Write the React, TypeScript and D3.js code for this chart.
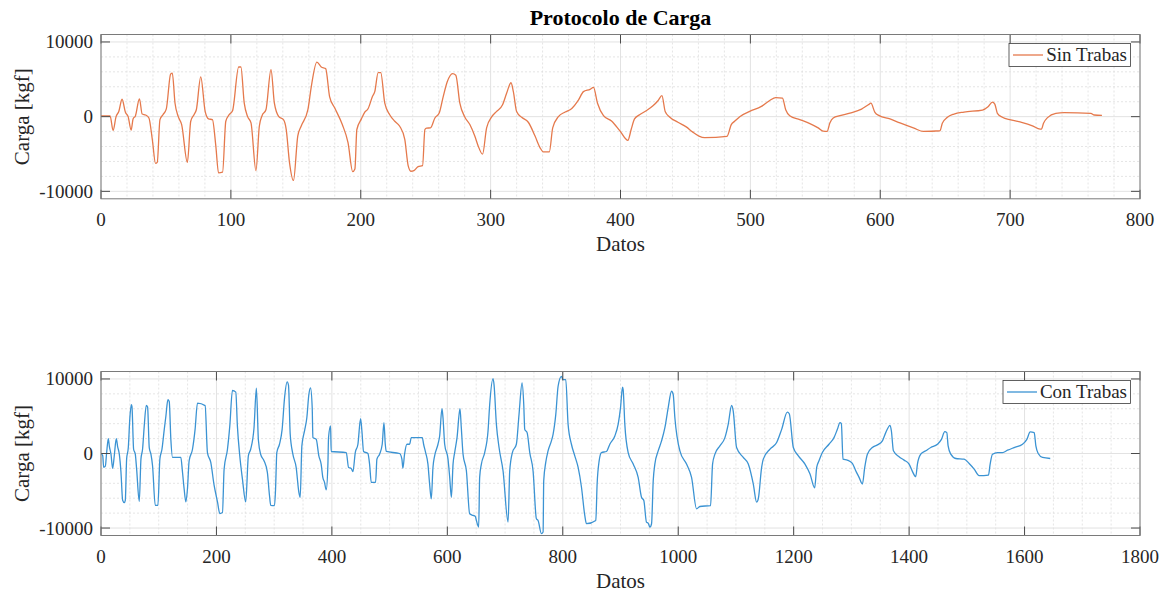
import React from "react";
import * as d3 from "d3";

// Load protocol records: [dato index, carga in kgf]
const sinTrabas: [number, number][] = [
  [0, 100], [7, 100], [9.3, -1850], [11.6, 0], [13.7, 700], [16.2, 2330], [18.8, 600], [20.9, 0],
  [23.2, -1800], [24.7, -300], [26.5, 100], [29.6, 2380], [31.7, 350], [34.3, 220], [36.9, -180],
  [39.5, -3040], [42, -6250], [43.3, -6120], [45.4, -400], [47.7, 260], [50.3, 1050], [53.6, 5700],
  [54.9, 5840], [57, 1800], [59.5, 0], [62.1, -1060], [66.5, -6120], [69.1, -620], [71.6, 260],
  [73.4, 920], [76.8, 5330], [80.2, 700], [82.8, -300], [85.8, -400], [88.4, -3920], [90.5, -7530],
  [93.6, -7440], [96.1, -620], [98.7, 260], [101.3, 800], [106, 6650], [107.7, 6650], [110.3, 1800],
  [112.9, 0], [115.5, -840], [119.3, -7220], [121.9, -1280], [124, 130], [127, 920], [130.9, 6300],
  [133.5, 1800], [136.9, 0], [140.5, -400], [142.6, -1700], [145.1, -6080], [148.2, -8540],
  [151.5, -2600], [154.1, -1280], [159.3, 925], [161.9, 4000], [166.2, 7310], [169.6, 6650],
  [173, 6430], [176, 2690], [180, 1150], [185.8, -1060], [190.2, -3480], [193.8, -7350],
  [195.5, -7000], [197, -1720], [200.5, -300], [203, 570], [205.6, 1050], [209, 2690], [210.8, 3350],
  [213.4, 5900], [215.4, 5900], [218.5, 1800], [222.3, 260], [226.2, -620], [230, -1280],
  [233.9, -3040], [236.5, -6560], [238.6, -7310], [240.9, -7220], [244.2, -6690], [247.6, -6560],
  [249.4, -1720], [250.7, -1540], [253.7, -1500], [257.1, -180], [260.4, 480], [263.5, 2690],
  [266.6, 4670], [270.7, 5770], [273.2, 5550], [276.3, 1800], [280.1, -40], [284, -1060],
  [287.8, -2600], [290.4, -3920], [293.8, -5020], [296.9, -1500], [300.8, -40], [304.6, 700],
  [309.2, 1590], [312.3, 3130], [315.7, 4540], [317.5, 3350], [320, 700], [323.9, -90], [329, -750],
  [334.2, -2600], [338, -4140], [340.6, -4710], [345.2, -4710], [347.8, -1500], [352.2, 0],
  [357.4, 620], [362.5, 1100], [367.7, 2250], [371.5, 3350], [376.6, 3660], [379.2, 3920],
  [382.3, 1800], [386.9, 130], [393.3, -620], [399.7, -1940], [405.7, -3170], [408.2, -1720],
  [410.8, -300], [414.7, 260], [419.8, 790], [425, 1450], [429, 2160], [431.9, 2820], [434.4, 700],
  [437.8, -40], [444.2, -750], [450.6, -1370], [455.7, -2070], [460.4, -2600], [464.8, -2820],
  [482, -2640], [485.3, -1060], [487.9, -620], [491.8, 0], [499.5, 700], [508.5, 1370],
  [514.9, 2160], [519.5, 2550], [524.7, 2470], [527.2, 930], [530.3, 130], [538, -400],
  [545.8, -925], [552.2, -1500], [556, -1940], [559.1, -1980], [561.2, -840], [563.8, -180],
  [569, 130], [576.6, 480], [585.6, 1010], [590.8, 1590], [592.8, 1800], [595.9, 570], [599.2, 130],
  [607.5, -300], [615.2, -840], [626, -1540], [633.2, -1980], [646, -1890], [647.8, -880],
  [651.7, -90], [656.8, 350], [664.5, 620], [678.7, 880], [683, 1320], [686.4, 1940], [688.2, 1680],
  [690.2, 440], [694, -90], [700.5, -440], [709.5, -790], [717.2, -1230], [723.1, -1670],
  [724.1, -1670], [725.7, -880], [728.8, -130], [735.2, 440], [741.6, 530], [762.2, 440],
  [764.8, 220], [770.7, 180],
];

const conTrabas: [number, number][] = [
  [0, 0], [3, -300], [4.6, -1860], [7.5, -1700], [9.8, 130], [12.7, 1990], [14.4, 1000], [17.3, -90],
  [20.2, -1990], [23, -300], [26.5, 1990], [28.8, 930], [31.7, -90], [34.6, -2520], [37.5, -6280],
  [40.3, -6590], [42.1, -6280], [44.4, -750], [47.3, 800], [50, 4780], [52.5, 6550], [53.6, 6330],
  [56.5, 570], [59.4, -90], [61.7, -2070], [66.3, -6420], [69.2, -750], [72, 570], [74.9, 3670],
  [78.4, 6460], [80.7, 6240], [83.6, 790], [86.5, -90], [89.3, -1640], [94, -6950], [98.6, -6950],
  [102, -750], [105.6, 570], [109.6, 3230], [112.4, 5000], [115.9, 7210], [118.2, 6990], [121, 1900],
  [123.9, -530], [138.3, -530], [141.2, -2520], [144, -4730], [147, -6500], [149.8, -4730],
  [152.7, -970], [158.5, 570], [163, 3230], [167.1, 6770], [180.4, 6420], [184.4, 130],
  [190.2, -1200], [196, -4290], [201.8, -6500], [205.8, -8050], [210.4, -7920], [213.3, -2070],
  [219.1, 570], [223.1, 3670], [227.7, 8450], [233.5, 8230], [236.3, 3670], [240.4, -310],
  [245, -3400], [250.7, -6500], [255.3, -310], [259.3, 570], [265.1, 3450], [269.2, 8760],
  [272.7, 1770], [276.7, -130], [282.4, -970], [288.2, -2520], [291.9, -5640], [294, -6950],
  [300.6, -6980], [302.3, -5000], [304.6, 130], [309.2, 1240], [313.8, 3240], [318, 7470],
  [322.5, 9600], [324.8, 9160], [327.8, 2580], [332.4, -90], [338.1, -1870], [342.8, -5200],
  [345.1, -5870], [348, 1020], [352.6, 3020], [356.6, 4800], [360.1, 7910], [363, 8800],
  [365.9, 6130], [367.1, 2130], [372.8, 1910], [377.4, -310], [381.4, -1420], [384.3, -3200],
  [387.2, -3870], [390.2, -4890], [393.1, -1420], [394.2, 2130], [397.7, 3690], [398.8, 270],
  [424.9, 130], [428.9, -1870], [433.5, -2000], [436.4, -2440], [440.5, 130], [445.1, 1240],
  [449.7, 4670], [452, 3020], [454.9, 270], [462.4, 0], [465.3, -1420], [468.2, -3870],
  [475.7, -3870], [478, -750], [482.6, -90], [487.2, 1240], [490.2, 4130], [492.5, 1240],
  [494.2, 270], [517.3, 0], [521.3, -750], [523, -1960], [525.9, -90], [530, 1240], [534.6, 1240],
  [537.6, 2130], [556.6, 2130], [558.9, 1240], [562.4, 130], [566.4, -1420], [569.3, -4090],
  [572.2, -6090], [575.1, -1870], [578, -310], [583.8, 1240], [586.7, 2350], [590.7, 6000],
  [592.5, 4800], [595.4, 1240], [601.2, -750], [604.1, -3200], [607, -5870], [609.9, -1420],
  [612.7, 130], [616.8, 2130], [621.9, 6000], [624.2, 3470], [627.2, -90], [633, -2310],
  [638.7, -8090], [644.5, -8310], [648.5, -8440], [650.3, -8980], [654.3, -9870], [656, -3200],
  [659, -1420], [664.7, 130], [670.5, 3020], [673.4, 6580], [679.2, 10040], [680.9, 9240],
  [685, 3910], [689.6, 800], [696.5, -2310], [705.2, -9200], [708.1, -2310], [712.7, 130],
  [719.6, 1240], [724.2, 5240], [729.5, 9470], [732.4, 6580], [734.1, 3240], [738.2, 2800],
  [742.8, 130], [748.5, -2310], [754.3, -8760], [757.2, -8980], [763, -10750], [765.9, -10530],
  [767, -3640], [770.5, -1200], [774.5, 350], [780.3, 1690], [783.2, 2580], [787.9, 5240],
  [791.9, 9020], [797.7, 10350], [800.6, 9910], [805.2, 9910], [809.2, 3910], [815, 1240],
  [820.8, -310], [826.6, -1870], [832.4, -4530], [838.1, -8310], [841, -9420], [857.2, -8980],
  [859.5, -4090], [863, -980], [867, 130], [875.7, 270], [881.5, 1240], [890.2, 2360],
  [895.9, 3910], [900, 6130], [903.5, 8890], [904.6, 8580], [907.5, 3910], [913.3, 130],
  [922, -1420], [930.6, -3200], [936.4, -5870], [940.4, -6310], [945, -9200], [947.9, -9330],
  [950.9, -9870], [953.8, -9420], [956.7, -3640], [959.5, -1420], [965.3, 350], [971.1, 1690],
  [976.9, 3470], [982.6, 6130], [988.4, 8350], [991.3, 7910], [994.2, 4800], [1002.9, 350],
  [1014.4, -1420], [1023.1, -3200], [1031.8, -7420], [1037.5, -7110], [1056, -6980],
  [1059.5, -1420], [1063.6, -90], [1072.2, 1020], [1080.9, 2130], [1086.6, 3910], [1092.5, 6440],
  [1095.3, 5690], [1101.1, 800], [1112.7, -530], [1121.4, -1420], [1130, -4090], [1135.8, -6530],
  [1138.7, -6090], [1144.5, -1870], [1147.4, -750], [1159, 580], [1170.5, 1470], [1179.2, 3240],
  [1189, 5550], [1192.4, 5330], [1199.4, 800], [1208.1, -310], [1219.6, -1420], [1228.3, -2750],
  [1236.4, -4620], [1239.9, -1870], [1243.9, -980], [1249.7, 130], [1261.2, 1240], [1269.9, 2130],
  [1275.7, 3240], [1280.3, 4130], [1282.6, 4000], [1285.5, -760], [1293, -890], [1301.7, -1330],
  [1307.5, -2310], [1313.3, -3200], [1319.1, -4090], [1323.1, -1870], [1327.7, -90], [1336.4, 800],
  [1345.1, 1160], [1353.7, 1690], [1359.5, 2800], [1367, 3780], [1369.3, 3020], [1372.8, 360],
  [1382.6, -440], [1391.3, -890], [1400, -1420], [1405.7, -2400], [1411.5, -3110], [1414.4, -1420],
  [1420.2, -90], [1428.9, 360], [1437.5, 800], [1449.1, 1240], [1456, 1900], [1461.8, 2930],
  [1465.3, 2800], [1467.6, 1020], [1472.2, -90], [1480.9, -670], [1495.3, -760], [1504, -1330],
  [1512.7, -2090], [1521.3, -2980], [1537.5, -2890], [1540.4, -1420], [1544.4, -90], [1553.1, 130],
  [1561.8, 130], [1570.5, 440], [1582, 800], [1596.5, 1240], [1604, 1900], [1609.8, 2890],
  [1616.7, 2800], [1619.6, 1020], [1623.6, 0], [1631.2, -530], [1644.5, -670],
];

const topXTicks = [0, 100, 200, 300, 400, 500, 600, 700, 800];
const bottomXTicks = [0, 200, 400, 600, 800, 1000, 1200, 1400, 1600, 1800];
const yTicks = [-10000, 0, 10000];

const FONT = "'Liberation Serif', 'Times New Roman', serif";
const LEFT = 101;
const RIGHT = 1140;
const TICK = 9;

type PanelProps = {
  top: number;
  bottom: number;
  xMax: number;
  xTicks: number[];
  minorStep: number;
  data: [number, number][];
  color: string;
  name: string;
  legendLeft: number;
  id: string;
};

function Panel({ top, bottom, xMax, xTicks, minorStep, data, color, name, legendLeft, id }: PanelProps) {
  const x = d3.scaleLinear().domain([0, xMax]).range([LEFT, RIGHT]);
  const y = d3.scaleLinear().domain([-11000, 11000]).range([bottom, top]);
  const line = d3
    .line<[number, number]>()
    .x((d) => x(d[0]))
    .y((d) => y(d[1]))
    .curve(d3.curveMonotoneX);

  const minorX = d3.range(0, xMax + 0.001, minorStep).filter((v) => !xTicks.includes(v));
  const minorY = d3.range(-10000, 10001, 2000).filter((v) => !yTicks.includes(v));

  const legendTop = top + 9;
  const legendBottom = legendTop + 23;
  const legendRight = 1130.5;
  const legendMid = (legendTop + legendBottom) / 2;

  return (
    <g>
      <defs>
        <clipPath id={id}>
          <rect x={LEFT} y={top} width={RIGHT - LEFT} height={bottom - top} />
        </clipPath>
      </defs>
      <rect x={LEFT} y={top} width={RIGHT - LEFT} height={bottom - top} fill="#fff" />
      {/* minor grid */}
      {minorX.map((v) => (
        <line key={"mx" + v} x1={x(v)} x2={x(v)} y1={top} y2={bottom} stroke="#dedede" strokeWidth={0.8} strokeDasharray="2,2" />
      ))}
      {minorY.map((v) => (
        <line key={"my" + v} x1={LEFT} x2={RIGHT} y1={y(v)} y2={y(v)} stroke="#dedede" strokeWidth={0.8} strokeDasharray="2,2" />
      ))}
      {/* major grid */}
      {xTicks.map((v) => (
        <line key={"gx" + v} x1={x(v)} x2={x(v)} y1={top} y2={bottom} stroke="#e2e2e2" strokeWidth={1} />
      ))}
      {yTicks.map((v) => (
        <line key={"gy" + v} x1={LEFT} x2={RIGHT} y1={y(v)} y2={y(v)} stroke="#e2e2e2" strokeWidth={1} />
      ))}
      <path d={line(data) ?? ""} fill="none" stroke={color} strokeWidth={1.3} strokeLinejoin="round" clipPath={`url(#${id})`} />
      {/* ticks on all sides */}
      {xTicks.map((v) => (
        <g key={"tx" + v}>
          <line x1={x(v)} x2={x(v)} y1={bottom} y2={bottom - TICK} stroke="#4a4a4a" strokeWidth={1} />
          <line x1={x(v)} x2={x(v)} y1={top} y2={top + TICK} stroke="#4a4a4a" strokeWidth={1} />
          <text x={x(v)} y={bottom + 27} textAnchor="middle" fontFamily={FONT} fontSize={19} fill="#262626">
            {v}
          </text>
        </g>
      ))}
      {yTicks.map((v) => (
        <g key={"ty" + v}>
          <line x1={LEFT} x2={LEFT + TICK} y1={y(v)} y2={y(v)} stroke="#4a4a4a" strokeWidth={1} />
          <line x1={RIGHT} x2={RIGHT - TICK} y1={y(v)} y2={y(v)} stroke="#4a4a4a" strokeWidth={1} />
          <text x={LEFT - 8} y={y(v)} dy="0.34em" textAnchor="end" fontFamily={FONT} fontSize={19} fill="#262626">
            {v}
          </text>
        </g>
      ))}
      <rect x={LEFT} y={top} width={RIGHT - LEFT} height={bottom - top} fill="none" stroke="#7a7a7a" strokeWidth={1} />
      {/* axis labels */}
      <text x={(LEFT + RIGHT) / 2} y={bottom + 52} textAnchor="middle" fontFamily={FONT} fontSize={21} fill="#262626">
        Datos
      </text>
      <text
        transform={`translate(29, ${(top + bottom) / 2}) rotate(-90)`}
        textAnchor="middle"
        fontFamily={FONT}
        fontSize={21}
        fill="#262626"
      >
        Carga [kgf]
      </text>
      {/* legend */}
      <rect x={legendLeft} y={legendTop} width={legendRight - legendLeft} height={legendBottom - legendTop} fill="#fff" stroke="#3a3a3a" strokeWidth={0.8} />
      <line x1={legendLeft + 4} x2={legendLeft + 34} y1={legendMid} y2={legendMid} stroke={color} strokeWidth={1.3} />
      <text x={legendRight - 3.5} y={legendMid} dy="0.33em" textAnchor="end" fontFamily={FONT} fontSize={19} fill="#262626">
        {name}
      </text>
    </g>
  );
}

export default function App() {
  return (
    <div style={{ position: "absolute", left: 0, top: 0 }}>
      <svg width={1164} height={592} style={{ display: "block", background: "#fff" }}>
        <text x={(LEFT + RIGHT) / 2} y={25} textAnchor="middle" fontFamily={FONT} fontSize={22} fontWeight="bold" fill="#000">
          Protocolo de Carga
        </text>
        <Panel
          id="clip-sin"
          top={34.5}
          bottom={198.8}
          xMax={800}
          xTicks={topXTicks}
          minorStep={20}
          data={sinTrabas}
          color="#E5794C"
          name="Sin Trabas"
          legendLeft={1009}
        />
        <Panel
          id="clip-con"
          top={371.5}
          bottom={535.5}
          xMax={1800}
          xTicks={bottomXTicks}
          minorStep={50}
          data={conTrabas}
          color="#3B93D3"
          name="Con Trabas"
          legendLeft={1003}
        />
      </svg>
    </div>
  );
}
